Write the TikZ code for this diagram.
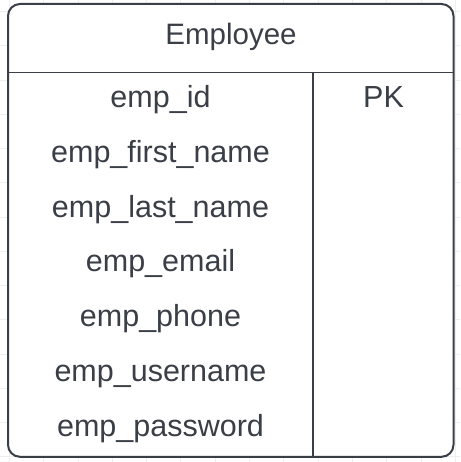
\documentclass[tikz,border=0pt]{standalone}
\usepackage{fontspec}
\setmainfont{Liberation Sans}
\definecolor{inkgray}{HTML}{3A3F47}
\definecolor{gridgray}{HTML}{EEEEEE}
\tikzset{
    field/.style={anchor=base,text=inkgray,font=\fontsize{30.5}{36}\selectfont,inner sep=0pt},
    title/.style={anchor=base,text=inkgray,font=\fontsize{29.5}{35}\selectfont,inner sep=0pt}
}
\begin{document}
\begin{tikzpicture}[x=1pt,y=-1pt]
    \useasboundingbox (0,0) rectangle (460,462);
    % faint page grid
    \foreach \gx in {9.3,43.6,...,460} \draw[gridgray,line width=0.8pt] (\gx,0) -- (\gx,462);
    \foreach \gy in {11.5,45.75,...,462} \draw[gridgray,line width=0.8pt] (0,\gy) -- (460,\gy);

    \draw[inkgray,line width=2pt,fill=white,rounded corners=12pt] (8,4) rectangle (453.5,456.8);
    \coordinate (hl) at (8,72.3);
    \coordinate (hr) at (453.5,72.3);
    \coordinate (dt) at (313,72.3);
    \coordinate (db) at (313,456.8);
    \draw[inkgray,line width=1.5pt] (hl) -- (hr);
    \draw[inkgray,line width=1.5pt] (dt) -- (db);

    \node[title] (employee) at (231,44.3){Employee};
    \node[field] (pk) at (383.5,107.5){PK};

    \node[field] (empid) at (160.5,107.5){emp\_id};
    \node[field] (firstname) at (160.5,162.3){emp\_first\_name};
    \node[field] (lastname) at (160.5,217.1){emp\_last\_name};
    \node[field] (email) at (160.5,271.9){emp\_email};
    \node[field] (phone) at (160.5,326.7){emp\_phone};
    \node[field] (username) at (160.5,381.5){emp\_username};
    \node[field] (password) at (160.5,436.3){emp\_password};
\end{tikzpicture}
\end{document}
